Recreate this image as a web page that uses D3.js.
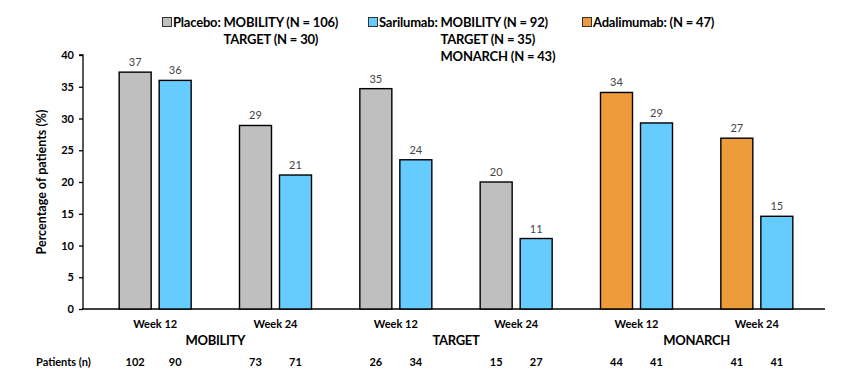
<!DOCTYPE html>
<html><head><meta charset="utf-8">
<script src="https://cdn.jsdelivr.net/npm/d3@7"></script>
<style>body{margin:0;background:#fff}svg{display:block;font-family:Lato,"Open Sans",sans-serif}</style>
</head><body><svg id="c" width="842" height="383"></svg>
<script>
const studies = ["MOBILITY","TARGET","MONARCH"];
const weeks = ["Week 12","Week 24"];
const slotStudy = ["MOBILITY","MOBILITY","TARGET","TARGET","MONARCH","MONARCH"];
const slotWeek = ["Week 12","Week 24","Week 12","Week 24","Week 12","Week 24"];
const comparatorSeries = ["Placebo","Placebo","Placebo","Placebo","Adalimumab","Adalimumab"];
const comparatorValues = [37.3, 28.9, 34.7, 20.0, 34.1, 26.9];
const sarilumabValues = [36.0, 21.1, 23.5, 11.1, 29.3, 14.6];
const comparatorLabels = ["37","29","35","20","34","27"];
const sarilumabLabels = ["36","21","24","11","29","15"];
const comparatorPatients = ["102","73","26","15","44","41"];
const sarilumabPatients = ["90","71","34","27","41","41"];
const yTicks = [0,5,10,15,20,25,30,35,40];
const legendItems = [
  {name:"Placebo", lines:["Placebo: MOBILITY (N = 106)","TARGET (N = 30)"]},
  {name:"Sarilumab", lines:["Sarilumab: MOBILITY (N = 92)","TARGET (N = 35)","MONARCH (N = 43)"]},
  {name:"Adalimumab", lines:["Adalimumab: (N = 47)"]}
];
const colors = {Placebo:"#BFBFBF", Sarilumab:"#66CCFF", Adalimumab:"#EE9B3B"};

const svg = d3.select("#c");
const slots = d3.range(6);
const x0 = d3.scaleBand().domain(slots).range([95, 817]);
const y = d3.scaleLinear().domain([0,40]).range([309,55]);

// y axis
const yAxis = svg.append("g").attr("transform","translate(83,0)")
  .call(d3.axisLeft(y).tickValues(yTicks).tickSize(4).tickPadding(5));
yAxis.select(".domain").attr("stroke","#000").attr("stroke-width",1.3).attr("d","M-4,55H0V309");
yAxis.selectAll(".tick line").attr("stroke","#000").attr("stroke-width",1.3);
yAxis.selectAll(".tick text").attr("font-size",11).attr("font-weight","bold").attr("fill","#000").attr("font-family","Lato");

// x axis line
svg.append("line").attr("x1",82).attr("x2",825).attr("y1",y(0)).attr("y2",y(0))
  .attr("stroke","#000").attr("stroke-width",1.3);

svg.append("text").attr("transform","translate(46,182) rotate(-90)")
  .attr("text-anchor","middle").attr("font-size",12.5).attr("font-weight","bold")
  .text("Percentage of patients (%)");

const bars = [];
slots.forEach(i=>{
  bars.push({slot:i, k:0, series:comparatorSeries[i], v:comparatorValues[i], label:comparatorLabels[i], n:comparatorPatients[i]});
  bars.push({slot:i, k:1, series:"Sarilumab", v:sarilumabValues[i], label:sarilumabLabels[i], n:sarilumabPatients[i]});
});
const x1 = d3.scaleBand().domain([0,1]).range([0, x0.bandwidth()]).paddingInner(0.2).paddingOuter((x0.bandwidth()-72)/2/40);
const bx = d => x0(d.slot) + x1(d.k);

svg.append("g").selectAll("rect").data(bars).join("rect")
  .attr("x", bx).attr("width", x1.bandwidth())
  .attr("y", d=>y(d.v)).attr("height", d=>y(0)-y(d.v))
  .attr("fill", d=>colors[d.series]).attr("stroke","#000").attr("stroke-width",1.4);

svg.append("g").selectAll("text").data(bars).join("text")
  .attr("x", d=>bx(d)+x1.bandwidth()/2).attr("y", d=>y(d.v)-6)
  .attr("text-anchor","middle").attr("font-size",11).attr("fill","#444")
  .text(d=>d.label);

// week labels
svg.append("g").selectAll("text").data(slots).join("text")
  .attr("x", i=>x0(i)+x0.bandwidth()/2).attr("y",328)
  .attr("text-anchor","middle").attr("font-size",11).attr("font-weight","bold")
  .text(i=>slotWeek[i]);

// study labels
svg.append("g").selectAll("text").data(studies).join("text")
  .attr("x", s=>{const idx=slots.filter(i=>slotStudy[i]===s); return (x0(idx[0])+x0(idx[idx.length-1])+x0.bandwidth())/2;})
  .attr("y",345).attr("text-anchor","middle").attr("font-size",13).attr("font-weight","bold")
  .attr("letter-spacing",-0.3)
  .text(s=>s);

// patients row
svg.append("text").attr("x",36).attr("y",366).attr("font-size",11).attr("font-weight","bold").text("Patients (n)");
svg.append("g").selectAll("text").data(bars).join("text")
  .attr("x", d=>bx(d)+x1.bandwidth()/2).attr("y",366)
  .attr("text-anchor","middle").attr("font-size",11).attr("font-weight","bold")
  .text(d=>d.n);

// legend
const legX = [162, 368, 582];
legendItems.forEach((it,j)=>{
  const g = svg.append("g").attr("transform",`translate(${legX[j]},0)`);
  g.append("rect").attr("x",0.5).attr("y",17.5).attr("width",9).attr("height",9)
    .attr("fill",colors[it.name]).attr("stroke","#333").attr("stroke-width",1);
  const first = g.append("text").attr("x",11).attr("y",27).attr("font-size",13).attr("font-weight","bold").attr("letter-spacing",-0.2);
  const prefix = it.lines[0].slice(0, it.lines[0].indexOf(":")+2);
  const pre = first.append("tspan").text(prefix);
  first.append("tspan").text(it.lines[0].slice(prefix.length));
  const off = 11 + pre.node().getComputedTextLength();
  it.lines.slice(1).forEach((ln,k)=>{
    g.append("text").attr("x",off).attr("y",27+17*(k+1)).attr("font-size",13).attr("font-weight","bold").attr("letter-spacing",-0.2).text(ln);
  });
});
</script></body></html>
